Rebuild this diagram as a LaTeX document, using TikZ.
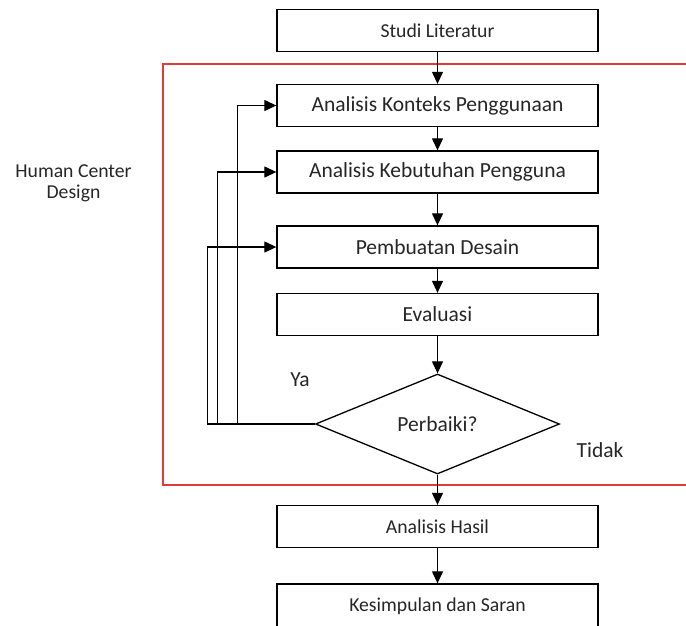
\documentclass[tikz,border=0pt]{standalone}
\usepackage{fontspec}
\setmainfont{Carlito}
\usepackage{tikz}
\usetikzlibrary{shapes.geometric}
\usetikzlibrary{arrows.meta}
\definecolor{hcdred}{RGB}{222,60,60}

\begin{document}
\begin{tikzpicture}[x=1pt,y=-1pt,
    >={Triangle[length=12pt,width=11pt]},
    every node/.style={text=black!85},
    box/.style={draw,line width=1.3pt,minimum width=321pt,minimum height=42pt,inner sep=0pt},
    big/.style={font=\fontsize{21.5}{26}\selectfont},
    small/.style={font=\fontsize{19.7}{21}\selectfont},
    arr/.style={->,line width=1.2pt}]

    \useasboundingbox (0,0) rectangle (686,625);
    \fill[white] (0,0) rectangle (686,625);

    % Human Center Design frame
    \draw[hcdred,line width=1.3pt] (163,64) rectangle (720,485);
    \node[small,align=center] (hcd) at (73.5,183.5) {Human Center\\Design};

    \node[box,small]         (studi) at (437.5, 30.5)       {Studi Literatur};
    \node[box,big]           (konteks) at (437.5, 105.5)    {Analisis Konteks Penggunaan};
    \node[box,big]           (kebutuhan) at (437.5, 172)    {Analisis Kebutuhan Pengguna};
    \node[box,big]           (desain) at (437.5, 247)       {Pembuatan Desain};
    \node[box,big]           (evaluasi) at (437.5, 314.5)   {Evaluasi};
    \node[draw,diamond,big,line width=1.3pt,minimum width=244pt,minimum height=100pt,inner sep=0pt]
                             (perbaiki) at (437.5, 424)     {Perbaiki?};
    \node[box,small]         (hasil) at (437.5, 526.5)      {Analisis Hasil};
    \node[box,small,minimum height=50pt,text depth=8pt] (saran) at (437.5, 609) {Kesimpulan dan Saran};

    \node[big] (ya) at (300, 380) {Ya};
    \node[big] (tidak) at (600, 450) {Tidak};

    \draw (studi) edge[arr] (konteks);
    \draw (konteks) edge[arr] (kebutuhan);
    \draw (kebutuhan) edge[arr] (desain);
    \draw (desain) edge[arr] (evaluasi);
    \draw (evaluasi) edge[arr] (perbaiki);
    \draw (perbaiki) edge[arr] (hasil);
    \draw (hasil) edge[arr] (saran);

    % Ya: back to earlier steps
    \draw[arr] (perbaiki.west) -- ++(-77.5,0) |- (konteks.west);
    \draw[arr] (perbaiki.west) -- ++(-97.5,0) |- (kebutuhan.west);
    \draw[arr] (perbaiki.west) -- ++(-107.5,0) |- (desain.west);
\end{tikzpicture}
\end{document}
